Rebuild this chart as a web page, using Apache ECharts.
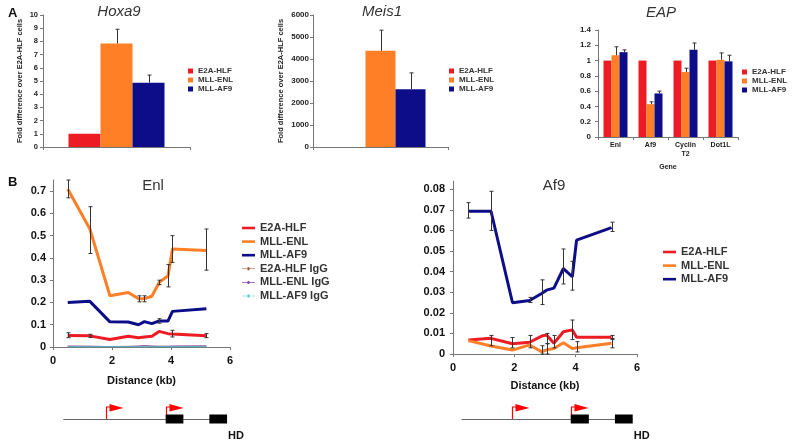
<!DOCTYPE html>
<html><head><meta charset="utf-8">
<script src="https://cdn.jsdelivr.net/npm/echarts/dist/echarts.min.js"></script>
<style>html,body{margin:0;padding:0;background:#fff}#c{width:800px;height:445px}</style>
</head><body><div id="c"></div><script>
// ---------- data ----------
const seriesNames = ['E2A-HLF', 'MLL-ENL', 'MLL-AF9'];
const igGNames = ['E2A-HLF IgG', 'MLL-ENL IgG', 'MLL-AF9 IgG'];

const hoxa9Values = [1.0, 7.85, 4.87];
const hoxa9Err = [0, 1.07, 0.58];
const meis1Values = [1, 4370, 2630];
const meis1Err = [0, 940, 740];

const eapGenes = ['Enl', 'Af9', 'Cyclin\nT2', 'Dot1L'];
const eapE2A = [1, 1, 1, 1];
const eapENL = [1.07, 0.43, 0.85, 1.01];
const eapAF9 = [1.11, 0.57, 1.14, 0.99];
const eapErrE2A = [0, 0, 0, 0];
const eapErrENL = [0.11, 0.03, 0.05, 0.09];
const eapErrAF9 = [0.03, 0.03, 0.09, 0.08];

const enlDistance = [0.5, 1.25, 1.93, 2.55, 2.9, 3.1, 3.35, 3.6, 3.9, 4.05, 5.2];
const enlE2A = [0.052, 0.05, 0.034, 0.048, 0.042, 0.045, 0.048, 0.07, 0.06, 0.058, 0.05];
const enlENL = [0.71, 0.53, 0.23, 0.245, 0.217, 0.217, 0.228, 0.29, 0.32, 0.44, 0.433];
const enlAF9 = [0.20, 0.205, 0.113, 0.112, 0.10, 0.114, 0.105, 0.117, 0.117, 0.16, 0.172];
const enlIgGE2A = [0.003, 0.003, 0.002, 0.003, 0.003, 0.004, 0.003, 0.003, 0.003, 0.003, 0.003];
const enlIgGENL = [0.004, 0.003, 0.002, 0.002, 0.004, 0.006, 0.004, 0.003, 0.003, 0.004, 0.005];
const enlIgGAF9 = [0.001, 0.001, 0.001, 0.001, 0.001, 0.001, 0.001, 0.001, 0.001, 0.001, 0.001];
const enlErrE2A = [[0.5, 0.042, 0.064], [1.25, 0.043, 0.057], [4.05, 0.045, 0.075], [5.2, 0.042, 0.06]];
const enlErrENL = [[0.5, 0.67, 0.75], [1.25, 0.42, 0.63], [2.9, 0.203, 0.23], [3.1, 0.203, 0.23], [3.6, 0.28, 0.30], [3.9, 0.27, 0.37], [4.05, 0.38, 0.50], [5.2, 0.345, 0.53]];
const enlErrAF9 = [[3.6, 0.107, 0.127]];

const af9Distance = [0.5, 1.24, 1.94, 2.5, 2.89, 3.05, 3.29, 3.6, 3.89, 4.03, 5.17];
const af9E2A = [0.0068, 0.0076, 0.005, 0.0057, 0.0087, 0.0092, 0.0052, 0.0108, 0.0117, 0.0081, 0.0081];
const af9ENL = [0.0065, 0.0039, 0.0019, 0.0044, 0.0011, 0.002, 0.0027, 0.0055, 0.0027, 0.003, 0.0052];
const af9AF9 = [0.0693, 0.0693, 0.0249, 0.026, 0.0294, 0.031, 0.032, 0.0415, 0.0375, 0.0553, 0.0614];
const af9ErrE2A = [[1.24, 0.004, 0.009], [1.94, 0.003, 0.008], [2.5, 0.003, 0.009], [3.05, 0.005, 0.010], [3.29, 0.003, 0.009], [3.89, 0.007, 0.0165], [5.17, 0.007, 0.009]];
const af9ErrENL = [[2.89, 0.0, 0.004], [3.05, 0.0, 0.005], [4.03, 0.001, 0.006], [5.17, 0.003, 0.0075]];
const af9ErrAF9 = [[0.5, 0.066, 0.0735], [1.24, 0.06, 0.079], [2.5, 0.025, 0.0275], [2.89, 0.024, 0.036], [3.6, 0.034, 0.051], [3.89, 0.031, 0.045], [5.17, 0.0595, 0.064]];

const enlGeneSpan = [[0.35, 5.9]];
const enlTss = [1.8, 3.82];
const enlExons = [[3.82, 4.42], [5.3, 5.9]];
const af9GeneSpan = [[0.28, 5.86]];
const af9Tss = [1.94, 3.84];
const af9Exons = [[3.84, 4.43], [5.28, 5.86]];
const geneDomainLabel = 'HD';

// ---------- style ----------
const FONT = '"Liberation Sans", Arial, sans-serif';
const COLORS = ['#ed1c24', '#ff7f27', '#0d0d8a'];
const IGG_COLORS = ['#a0522d', '#8e44ad', '#48c9d0'];
const AX = '#777';
const TXT = '#222';

const chart = echarts.init(document.getElementById('c'), null, {renderer: 'canvas'});

function barErr(xi, yi, vals, errs, k, barW) {
  return {
    type: 'custom', xAxisIndex: xi, yAxisIndex: yi, silent: true, z: 5,
    data: vals.map((v, i) => [i, v, v + errs[i]]),
    encode: {x: 0, y: [1, 2]},
    renderItem(params, api) {
      if (!errs[params.dataIndex]) return null;
      const p0 = api.coord([api.value(0), api.value(1)]);
      const p1 = api.coord([api.value(0), api.value(2)]);
      const x = Math.round(p0[0] + (k - 1) * barW) + 0.5;
      return {type: 'group', children: [
        {type: 'line', shape: {x1: x, y1: p0[1], x2: x, y2: p1[1]}, style: {stroke: '#333', lineWidth: 1}},
        {type: 'line', shape: {x1: x - 2, y1: p1[1], x2: x + 2, y2: p1[1]}, style: {stroke: '#333', lineWidth: 1}}
      ]};
    }
  };
}
function lineErr(xi, yi, arr) {
  return {
    type: 'custom', xAxisIndex: xi, yAxisIndex: yi, silent: true, z: 10,
    data: arr, encode: {x: 0, y: [1, 2]},
    renderItem(params, api) {
      const lo = api.coord([api.value(0), api.value(1)]);
      const hi = api.coord([api.value(0), api.value(2)]);
      const x = Math.round(lo[0]) + 0.5;
      const s = {stroke: '#333', lineWidth: 1};
      return {type: 'group', children: [
        {type: 'line', shape: {x1: x, y1: lo[1], x2: x, y2: hi[1]}, style: s},
        {type: 'line', shape: {x1: x - 2, y1: lo[1], x2: x + 2, y2: lo[1]}, style: s},
        {type: 'line', shape: {x1: x - 2, y1: hi[1], x2: x + 2, y2: hi[1]}, style: s}
      ]};
    }
  };
}
function lineSeries(name, xi, yi, xs, ys, color, width) {
  return {
    type: 'line', name, xAxisIndex: xi, yAxisIndex: yi,
    data: xs.map((x, i) => [x, ys[i]]),
    symbol: 'none', showSymbol: false,
    lineStyle: {color, width}, itemStyle: {color}, z: width > 2 ? 4 : 3
  };
}
function geneSeries(gi, span, tss, exons) {
  return [
    {type: 'custom', xAxisIndex: gi, yAxisIndex: gi, silent: true, z: 1, data: span,
      renderItem(params, api) {
        const a = api.coord([api.value(0), 0.5]), b = api.coord([api.value(1), 0.5]);
        const y = Math.round(a[1]) + 0.5;
        return {type: 'line', shape: {x1: a[0], y1: y, x2: b[0], y2: y}, style: {stroke: '#666', lineWidth: 1}};
      }},
    {type: 'custom', xAxisIndex: gi, yAxisIndex: gi, silent: true, z: 2, data: tss.map(v => [v]),
      renderItem(params, api) {
        const p = api.coord([api.value(0), 0.5]);
        const x = Math.round(p[0]) + 0.5, y = Math.round(p[1]);
        return {type: 'group', children: [
          {type: 'polyline', shape: {points: [[x, y], [x, y - 12], [x + 4, y - 12]]}, style: {stroke: '#f00', lineWidth: 1.2, fill: null}},
          {type: 'polygon', shape: {points: [[x + 3, y - 15], [x + 17, y - 11], [x + 3, y - 7.5]]}, style: {fill: '#f00'}}
        ]};
      }},
    {type: 'custom', xAxisIndex: gi, yAxisIndex: gi, silent: true, z: 3, data: exons,
      renderItem(params, api) {
        const a = api.coord([api.value(0), 0.5]), b = api.coord([api.value(1), 0.5]);
        const children = [{type: 'rect', shape: {x: a[0], y: a[1] - 4.5, width: b[0] - a[0], height: 9}, style: {fill: '#000'}}];
        if (params.dataIndex === exons.length - 1) {
          children.push({type: 'text', style: {text: geneDomainLabel, x: b[0] + 1, y: a[1] + 11, fill: '#111', font: 'bold 11px ' + FONT, textAlign: 'left', textVerticalAlign: 'top'}});
        }
        return {type: 'group', children};
      }}
  ];
}

const tickA = (size) => ({fontSize: size, fontWeight: 'bold', color: TXT, fontFamily: FONT});
const nameA = {fontSize: 7.5, fontWeight: 'bold', color: TXT, fontFamily: FONT};
const axLine = {show: true, lineStyle: {color: AX, width: 1}};
const axTick = {show: true, length: 3, lineStyle: {color: AX}};
const hidden = {show: false};

const lineIcon = 'path://M0,0L0,0M0,1.2H13V3.8H0ZM13,5L13,5';
const iggIcon = 'path://M0,0L0,0M0,2.2H13V2.8H0ZM5.5,1H7.5V4H5.5ZM13,5L13,5';

const legendA = (left, top) => ({
  left, top, orient: 'vertical', padding: 0, selectedMode: false,
  itemWidth: 5, itemHeight: 5, itemGap: 1, icon: 'rect',
  data: seriesNames.map((n, i) => ({name: n, itemStyle: {color: COLORS[i]}})),
  textStyle: {fontSize: 8, fontWeight: 'bold', color: '#333', fontFamily: FONT, lineHeight: 8}
});
const legendB = (left, top, withIgG) => ({
  left, top, orient: 'vertical', padding: 0, selectedMode: false,
  itemWidth: 13, itemHeight: 5, itemGap: 1.6,
  data: seriesNames.map((n, i) => ({name: n, icon: lineIcon, itemStyle: {color: COLORS[i]}}))
    .concat(withIgG ? igGNames.map((n, i) => ({name: n, icon: iggIcon, itemStyle: {color: IGG_COLORS[i]}})) : []),
  textStyle: {fontSize: 11, fontWeight: 'bold', color: '#333', fontFamily: FONT, lineHeight: 12}
});

const titleStyle = (italic) => ({fontSize: 15, fontStyle: italic ? 'italic' : 'normal', fontWeight: 'normal', color: '#333', fontFamily: FONT});

const series = [];
// Hoxa9 & Meis1 bars
seriesNames.forEach((n, k) => {
  series.push({type: 'bar', name: n, xAxisIndex: 0, yAxisIndex: 0, data: [hoxa9Values[k]], barWidth: 32, barGap: '0%', itemStyle: {color: COLORS[k]}});
});
seriesNames.forEach((n, k) => {
  series.push({type: 'bar', name: n, xAxisIndex: 1, yAxisIndex: 1, data: [meis1Values[k]], barWidth: 30, barGap: '0%', itemStyle: {color: COLORS[k]}});
});
const eapVals = [eapE2A, eapENL, eapAF9];
const eapErrs = [eapErrE2A, eapErrENL, eapErrAF9];
seriesNames.forEach((n, k) => {
  series.push({type: 'bar', name: n, xAxisIndex: 2, yAxisIndex: 2, data: eapVals[k], barWidth: 8, barGap: '0%', itemStyle: {color: COLORS[k]}});
});
seriesNames.forEach((n, k) => {
  series.push(barErr(0, 0, [hoxa9Values[k]], [hoxa9Err[k]], k, 32));
  series.push(barErr(1, 1, [meis1Values[k]], [meis1Err[k]], k, 30));
  series.push(barErr(2, 2, eapVals[k], eapErrs[k], k, 8));
});
// Enl lines
[enlIgGE2A, enlIgGENL, enlIgGAF9].forEach((ys, i) => series.push(lineSeries(igGNames[i], 3, 3, enlDistance, ys, IGG_COLORS[i], 1)));
[enlE2A, enlENL, enlAF9].forEach((ys, i) => series.push(lineSeries(seriesNames[i], 3, 3, enlDistance, ys, COLORS[i], 3)));
[enlErrE2A, enlErrENL, enlErrAF9].forEach(e => series.push(lineErr(3, 3, e)));
// Af9 lines
[af9E2A, af9ENL, af9AF9].forEach((ys, i) => series.push(lineSeries(seriesNames[i], 4, 4, af9Distance, ys, COLORS[i], 3)));
[af9ErrE2A, af9ErrENL, af9ErrAF9].forEach(e => series.push(lineErr(4, 4, e)));
// gene diagrams
geneSeries(5, enlGeneSpan, enlTss, enlExons).forEach(s => series.push(s));
geneSeries(6, af9GeneSpan, af9Tss, af9Exons).forEach(s => series.push(s));

const distAxis = (gi, gap) => ({
  gridIndex: gi, type: 'value', min: 0, max: 6, interval: 2,
  name: 'Distance (kb)', nameLocation: 'middle', nameGap: gap,
  nameTextStyle: {fontSize: 11, fontWeight: 'bold', color: '#111', fontFamily: FONT},
  axisLine: axLine, axisTick: axTick, splitLine: hidden,
  axisLabel: {fontSize: 11, fontWeight: 'bold', color: '#111', fontFamily: FONT, margin: 8}
});

const option = {
  animation: false,
  backgroundColor: '#fff',
  title: [
    {text: 'Hoxa9', left: 119, top: 4, textAlign: 'center', padding: 0, textStyle: titleStyle(true)},
    {text: 'Meis1', left: 382, top: 4, textAlign: 'center', padding: 0, textStyle: titleStyle(true)},
    {text: 'EAP', left: 661, top: 5, textAlign: 'center', padding: 0, textStyle: titleStyle(true)},
    {text: 'Enl', left: 153, top: 178, textAlign: 'center', padding: 0, textStyle: titleStyle(false)},
    {text: 'Af9', left: 554, top: 178, textAlign: 'center', padding: 0, textStyle: titleStyle(false)}
  ],
  graphic: [
    {type: 'text', left: 8, top: 7, style: {text: 'A', font: 'bold 13px ' + FONT, fill: '#111'}},
    {type: 'text', left: 8, top: 176, style: {text: 'B', font: 'bold 13px ' + FONT, fill: '#111'}}
  ],
  legend: [legendA(188, 67), legendA(449, 67), legendA(742, 68), legendB(242, 222, true), legendB(663, 246, false)],
  grid: [
    {left: 43, top: 15, width: 147, height: 132, outerBoundsMode: 'none'},
    {left: 313, top: 15, width: 135, height: 132, outerBoundsMode: 'none'},
    {left: 598, top: 30, width: 140, height: 107, outerBoundsMode: 'none'},
    {left: 53, top: 180, width: 177, height: 167, outerBoundsMode: 'none'},
    {left: 453, top: 181, width: 184, height: 173, outerBoundsMode: 'none'},
    {left: 53, top: 404, width: 177, height: 30, outerBoundsMode: 'none'},
    {left: 453, top: 404, width: 184, height: 30, outerBoundsMode: 'none'}
  ],
  xAxis: [
    {gridIndex: 0, type: 'category', data: ['Hoxa9'], axisLabel: hidden, axisLine: axLine, axisTick: axTick},
    {gridIndex: 1, type: 'category', data: ['Meis1'], axisLabel: hidden, axisLine: axLine, axisTick: axTick},
    {gridIndex: 2, type: 'category', data: eapGenes, axisLine: axLine, axisTick: axTick,
      axisLabel: {fontSize: 7, fontWeight: 'bold', color: TXT, fontFamily: FONT, margin: 4, lineHeight: 9, interval: 0},
      name: 'Gene', nameLocation: 'middle', nameGap: 27, nameTextStyle: {fontSize: 7, fontWeight: 'bold', color: TXT, fontFamily: FONT}},
    distAxis(3, 28),
    distAxis(4, 26),
    {gridIndex: 5, type: 'value', min: 0, max: 6, show: false},
    {gridIndex: 6, type: 'value', min: 0, max: 6, show: false}
  ],
  yAxis: [
    {gridIndex: 0, type: 'value', min: 0, max: 10, interval: 1, axisLine: axLine, axisTick: axTick, splitLine: hidden,
      axisLabel: Object.assign(tickA(7.5), {margin: 5}),
      name: 'Fold difference over E2A-HLF cells', nameLocation: 'middle', nameGap: 19, nameTextStyle: nameA},
    {gridIndex: 1, type: 'value', min: 0, max: 6000, interval: 1000, axisLine: axLine, axisTick: axTick, splitLine: hidden,
      axisLabel: Object.assign(tickA(8), {margin: 4, formatter: v => String(v)}),
      name: 'Fold difference over E2A-HLF cells', nameLocation: 'middle', nameGap: 28, nameTextStyle: nameA},
    {gridIndex: 2, type: 'value', min: 0, max: 1.4, interval: 0.2, axisLine: axLine, axisTick: axTick, splitLine: hidden,
      axisLabel: Object.assign(tickA(8), {margin: 7})},
    {gridIndex: 3, type: 'value', min: 0, max: 0.75, interval: 0.1, axisLine: axLine, axisTick: axTick, splitLine: hidden,
      axisLabel: {fontSize: 11, fontWeight: 'bold', color: '#111', fontFamily: FONT, margin: 7, showMaxLabel: false}},
    {gridIndex: 4, type: 'value', min: 0, max: 0.084, interval: 0.01, axisLine: axLine, axisTick: axTick, splitLine: hidden,
      axisLabel: {fontSize: 11, fontWeight: 'bold', color: '#111', fontFamily: FONT, margin: 8, showMaxLabel: false}},
    {gridIndex: 5, type: 'value', min: 0, max: 1, show: false},
    {gridIndex: 6, type: 'value', min: 0, max: 1, show: false}
  ],
  series
};
chart.setOption(option);
</script></body></html>
